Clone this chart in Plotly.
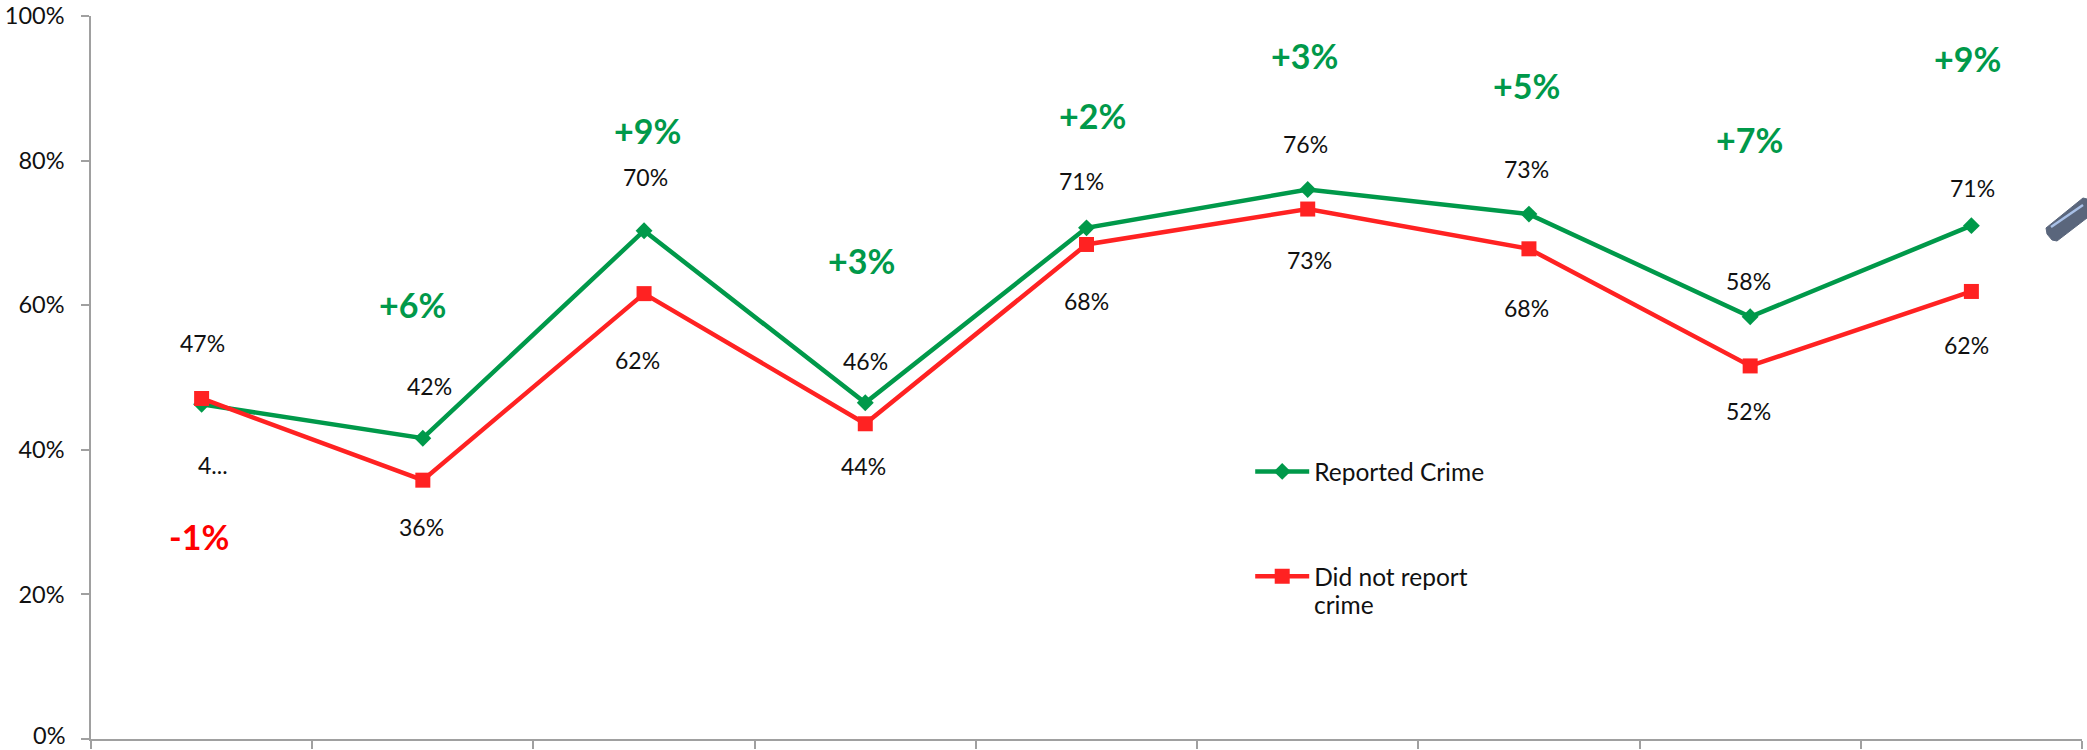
import plotly.graph_objects as go

W, H = 2087, 750
ML, MR, MT, MB = 90.5, 5, 16, 11

categories = ["Q1", "Q2", "Q3", "Q4", "Q5", "Q6", "Q7", "Q8", "Q9"]
reported = [46.3, 41.6, 70.3, 46.5, 70.7, 76.0, 72.6, 58.4, 71.0]
not_reported = [47.1, 35.8, 61.6, 43.6, 68.4, 73.3, 67.8, 51.6, 61.9]
reported_labels = ["4...", "42%", "70%", "46%", "71%", "76%", "73%", "58%", "71%"]
not_reported_labels = ["47%", "36%", "62%", "44%", "68%", "73%", "68%", "52%", "62%"]
gap_labels = ["-1%", "+6%", "+9%", "+3%", "+2%", "+3%", "+5%", "+7%", "+9%"]
gap_levels = [28.0, 60.1, 84.2, 66.2, 86.2, 94.5, 90.4, 82.9, 94.1]
y_ticks = [0, 20, 40, 60, 80, 100]
y_tick_labels = ["0%", "20%", "40%", "60%", "80%", "100%"]

GREEN = "#00994a"
RED = "#ff2222"
FONT = "Lato"

# label nudges in pixels relative to the point (dx, dy up)
reported_off = [(11, -61), (7, 52), (1, 54), (0, 42), (-5, 47), (-2, 46), (-2, 45), (-2, 36), (1, 38)]
not_reported_off = [(1, 55), (-1, -47), (-7, -66), (-2, -42), (0, -57), (2, -51), (-2, -59), (-2, -45), (-5, -54)]
gap_dx = [-3, -10, 3, -4, 6, -3, -2, -1, -4]

fig = go.Figure()
fig.add_trace(go.Scatter(x=categories, y=reported, name="Reported Crime", mode="lines+markers",
                         legendgroup="a",
                         line=dict(color=GREEN, width=4.5), marker=dict(symbol="diamond", size=13, color=GREEN)))
fig.add_trace(go.Scatter(x=categories, y=not_reported, name="Did not report", mode="lines+markers",
                         legendgroup="b",
                         line=dict(color=RED, width=4.5), marker=dict(symbol="square", size=15, color=RED)))

anns = []
for cat, v, t, (dx, dy) in zip(categories, reported, reported_labels, reported_off):
    anns.append(dict(x=cat, y=v, text=t, xshift=dx, yshift=dy, showarrow=False,
                     font=dict(family=FONT, size=23, color="#111111")))
for cat, v, t, (dx, dy) in zip(categories, not_reported, not_reported_labels, not_reported_off):
    anns.append(dict(x=cat, y=v, text=t, xshift=dx, yshift=dy, showarrow=False,
                     font=dict(family=FONT, size=23, color="#111111")))
for cat, v, t, dx in zip(categories, gap_levels, gap_labels, gap_dx):
    anns.append(dict(x=cat, y=v, text="<b>%s</b>" % t, xshift=dx, showarrow=False,
                     font=dict(family=FONT, size=34, color="#ff0000" if t.startswith("-") else GREEN)))


def px(x):
    return (x - ML) / (W - ML - MR)


def py(y):
    return 1 - (y - MT) / (H - MT - MB)


def poly(pts):
    return "M " + " L ".join("%.5f %.5f" % (px(a), py(b)) for a, b in pts) + " Z"


# second line of the legend's wrapped entry
anns.append(dict(xref="paper", yref="paper", x=px(1312), y=py(604), xanchor="left", yanchor="middle",
                 text="crime", showarrow=False, font=dict(family=FONT, size=24.5, color="#111111")))
# lowest y tick label: plotly drops tick labels that touch the page edge
anns.append(dict(xref="paper", yref="y", x=px(66), y=y_ticks[0], yshift=4, xanchor="right", yanchor="middle",
                 text=y_tick_labels[0], showarrow=False, font=dict(family=FONT, size=23.5, color="#111111")))

# pen-shaped stray object at the right edge
shapes = [
    dict(type="path", xref="paper", yref="paper", line=dict(color="#5a667c", width=1), fillcolor="#5a667c",
         path=poly([(2046, 228), (2083, 198), (2087, 199), (2087, 218), (2057, 241), (2052, 240), (2047, 234)])),
    dict(type="line", xref="paper", yref="paper", line=dict(color="#a9c1e8", width=2.5),
         x0=px(2051), y0=py(227), x1=px(2083), y1=py(205)),
]

fig.update_layout(
    width=W, height=H, paper_bgcolor="white", plot_bgcolor="white",
    margin=dict(l=ML, r=MR, t=MT, b=MB, pad=0, autoexpand=False),
    annotations=anns, shapes=shapes,
    font=dict(family=FONT, size=23, color="#111111"),
    legend=dict(x=px(1250), y=py(449), xanchor="left", yanchor="top", bgcolor="rgba(0,0,0,0)",
                itemwidth=54, tracegroupgap=70, traceorder="grouped",
                font=dict(family=FONT, size=24.5, color="#111111")),
    xaxis=dict(type="category", categoryorder="array", categoryarray=categories, range=[-0.5, 8.5],
               tickson="boundaries", showticklabels=False, ticks="outside", ticklen=8, tickwidth=1.5,
               tickcolor="#a0a0a0", showline=True, linecolor="#a0a0a0", linewidth=1.5, showgrid=False,
               zeroline=False, automargin=False),
    yaxis=dict(range=[0, 100], tickmode="array", tickvals=y_ticks, ticktext=[""] + y_tick_labels[1:], ticks="outside",
               ticklen=8, tickwidth=1.5, tickcolor="#a0a0a0", showline=True, linecolor="#a0a0a0",
               linewidth=1.5, showgrid=False, zeroline=False, ticklabelstandoff=12, automargin=False,
               tickfont=dict(family=FONT, size=23.5, color="#111111")),
)
fig.write_html("out.html", post_script="document.body.style.margin='0';", config=dict(displayModeBar=False))
